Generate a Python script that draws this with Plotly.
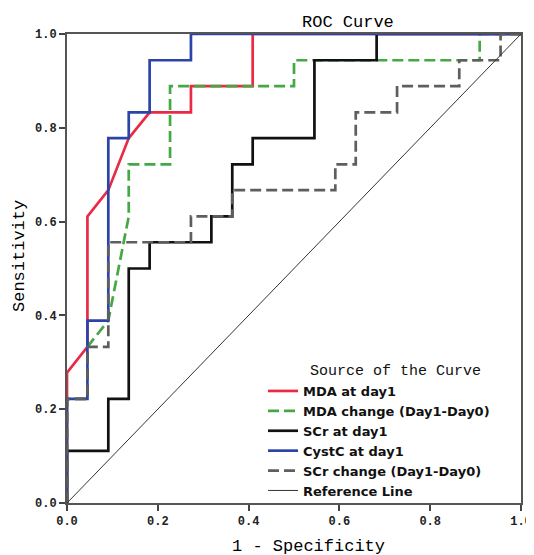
import plotly.graph_objects as go

# ROC curve points (1 - specificity, sensitivity)
mda_day1_x = [0, 0, 0.045, 0.045, 0.091, 0.136, 0.182, 0.273, 0.273, 0.409, 0.409, 1]
mda_day1_y = [0, 0.278, 0.333, 0.611, 0.667, 0.778, 0.833, 0.833, 0.889, 0.889, 1, 1]

mda_change_x = [0, 0, 0.045, 0.045, 0.091, 0.136, 0.136, 0.227, 0.227, 0.5, 0.5, 0.909, 0.909, 1]
mda_change_y = [0, 0.222, 0.222, 0.333, 0.389, 0.611, 0.722, 0.722, 0.889, 0.889, 0.944, 0.944, 1, 1]

scr_day1_x = [0, 0, 0.091, 0.091, 0.136, 0.136, 0.182, 0.182, 0.318, 0.318, 0.364, 0.364,
              0.409, 0.409, 0.545, 0.545, 0.682, 0.682, 1]
scr_day1_y = [0, 0.111, 0.111, 0.222, 0.222, 0.5, 0.5, 0.556, 0.556, 0.611, 0.611, 0.722,
              0.722, 0.778, 0.778, 0.944, 0.944, 1, 1]

cystc_day1_x = [0, 0, 0.045, 0.045, 0.091, 0.091, 0.136, 0.136, 0.182, 0.182, 0.273, 0.273, 1]
cystc_day1_y = [0, 0.222, 0.222, 0.389, 0.389, 0.778, 0.778, 0.833, 0.833, 0.944, 0.944, 1, 1]

scr_change_x = [0, 0, 0.045, 0.045, 0.091, 0.091, 0.273, 0.273, 0.364, 0.364, 0.591, 0.591,
                0.636, 0.636, 0.727, 0.727, 0.864, 0.864, 0.955, 0.955, 1]
scr_change_y = [0, 0.222, 0.222, 0.333, 0.333, 0.556, 0.556, 0.611, 0.611, 0.667, 0.667, 0.722,
                0.722, 0.833, 0.833, 0.889, 0.889, 0.944, 0.944, 1, 1]

ref_x = [0, 1]
ref_y = [0, 1]

series_names = ["MDA at day1", "MDA change (Day1-Day0)", "SCr at day1",
                "CystC at day1", "SCr change (Day1-Day0)", "Reference Line"]
tick_vals = [0, 0.2, 0.4, 0.6, 0.8, 1.0]
tick_text = ["0.0", "0.2", "0.4", "0.6", "0.8", "1.0"]

MONO = "Liberation Mono"
OFF = 8  # page body margin of the html page
W, H = 534 - OFF, 555 - OFF
# target plot area in window pixels
PL, PR, PT, PB = 67, 521, 34, 503
L, T = PL - OFF, PT - OFF
R = W - (PR - OFF)
B = H - (PB - OFF)
PW, PH = PR - PL, PB - PT


def px_x(px):
    return (px - PL) / PW


def px_y(py):
    return (PB - py) / PH


fig = go.Figure()
styles = [
    (mda_day1_x, mda_day1_y, "#ea2a44", 2.7, "solid"),
    (mda_change_x, mda_change_y, "#45a845", 2.7, "11px,5px"),
    (scr_day1_x, scr_day1_y, "#111111", 2.7, "solid"),
    (cystc_day1_x, cystc_day1_y, "#2b44a8", 2.7, "solid"),
    (scr_change_x, scr_change_y, "#5e5e5e", 2.7, "11px,5px"),
    (ref_x, ref_y, "#333333", 1.0, "solid"),
]
for name, (xs, ys, col, w, dash) in zip(series_names, styles):
    fig.add_trace(go.Scatter(x=xs, y=ys, mode="lines", name=name,
                             line=dict(color=col, width=w, dash=dash)))

fig.update_layout(
    width=W, height=H, autosize=False,
    margin=dict(l=L, r=R, t=T, b=B, autoexpand=False),
    plot_bgcolor="white", paper_bgcolor="white",
    showlegend=True,
    legend=dict(x=px_x(263), y=px_y(376),
                xanchor="left", yanchor="top",
                font=dict(family="DejaVu Sans", size=13, color="#111", weight="bold"),
                bgcolor="rgba(255,255,255,0)", tracegroupgap=0),
    annotations=[
        dict(text="ROC Curve", xref="paper", yref="paper", x=px_x(348), y=px_y(22),
             showarrow=False, font=dict(family=MONO, size=17, color="#000"),
             xanchor="center", yanchor="middle"),
        dict(text="Source of the Curve", xref="paper", yref="paper",
             x=px_x(395), y=px_y(371), showarrow=False,
             font=dict(family=MONO, size=15, color="#111"),
             xanchor="center", yanchor="middle"),
        dict(text="1 - Specificity", xref="paper", yref="paper",
             x=px_x(308), y=px_y(546), showarrow=False,
             font=dict(family=MONO, size=17, color="#000"),
             xanchor="center", yanchor="middle"),
        dict(text="Sensitivity", xref="paper", yref="paper",
             x=px_x(19), y=px_y(256), showarrow=False, textangle=-90,
             font=dict(family=MONO, size=17, color="#000"),
             xanchor="center", yanchor="middle"),
    ],
)
axis_common = dict(range=[0, 1], tickvals=tick_vals, ticktext=tick_text,
                   ticks="outside", ticklen=6, tickwidth=1.5, tickcolor="#444",
                   showgrid=False, zeroline=False, showline=True, mirror=True,
                   linecolor="#555", linewidth=2, automargin=False,
                   tickfont=dict(family=MONO, size=12, color="#222", weight="bold"))
fig.update_xaxes(**axis_common)
fig.update_yaxes(**axis_common)

fig.write_html("out.html")
